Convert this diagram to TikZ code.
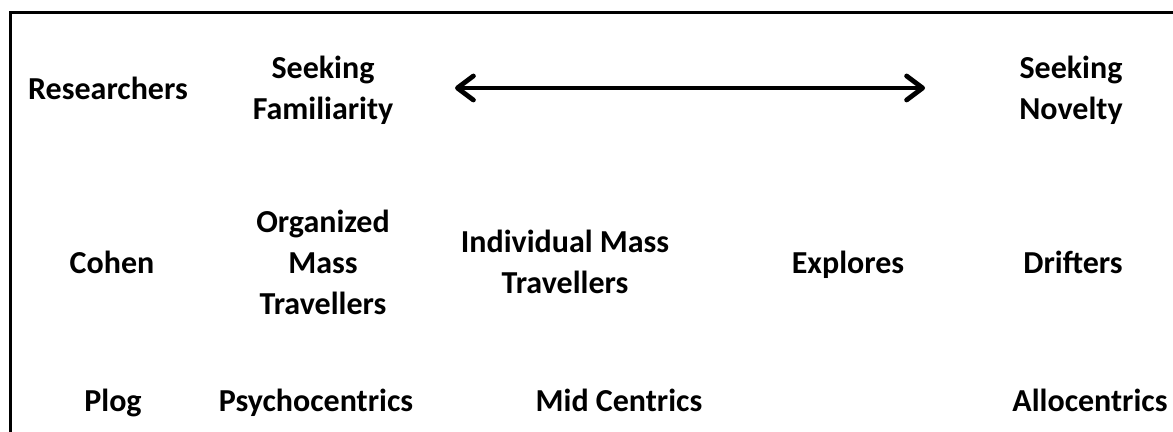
\documentclass[tikz,border=0pt]{standalone}
\usepackage{fontspec}
\setmainfont{Carlito}
\usetikzlibrary{arrows.meta}

\tikzset{
  lbl/.style={font=\fontsize{16}{20.5}\selectfont\bfseries, align=center},
  scalearrow/.style={line width=2.4pt, {Straight Barb[round,length=8pt,width=12pt]}-{Straight Barb[round,length=8pt,width=12pt]}}
}

\begin{document}
\begin{tikzpicture}[x=0.5pt, y=-0.5pt]
  \useasboundingbox (0,0) rectangle (1173,432);
  \clip (0,0) rectangle (1173,432);
  \draw[line width=1.5pt] (10,13) rectangle (1190,450);

  % row: researchers
  \node[lbl] (res) at (108,91) {\strut Researchers};
  \node[lbl] (famil) at (323,91) {\strut Seeking\\\strut Familiarity};
  \node[lbl] (novel) at (1071,91) {\strut Seeking\\\strut Novelty};
  \coordinate (arrL) at (455,88); \coordinate (arrR) at (925,88);
  \draw[scalearrow] (arrL) -- (arrR);

  % row: cohen
  \node[lbl] (cohen) at (112,265) {\strut Cohen};
  \node[lbl] (org) at (323,265) {\strut Organized\\\strut Mass\\\strut Travellers};
  \node[lbl] (indiv) at (565,265) {\strut Individual Mass\\\strut Travellers};
  \node[lbl] (expl) at (848,265) {\strut Explores};
  \node[lbl] (drift) at (1073,265) {\strut Drifters};

  % row: plog
  \node[lbl] (plog) at (113,403) {\strut Plog};
  \node[lbl] (psycho) at (316,403) {\strut Psychocentrics};
  \node[lbl] (mid) at (619,403) {\strut Mid Centrics};
  \node[lbl] (allo) at (1090,403) {\strut Allocentrics};
\end{tikzpicture}
\end{document}
